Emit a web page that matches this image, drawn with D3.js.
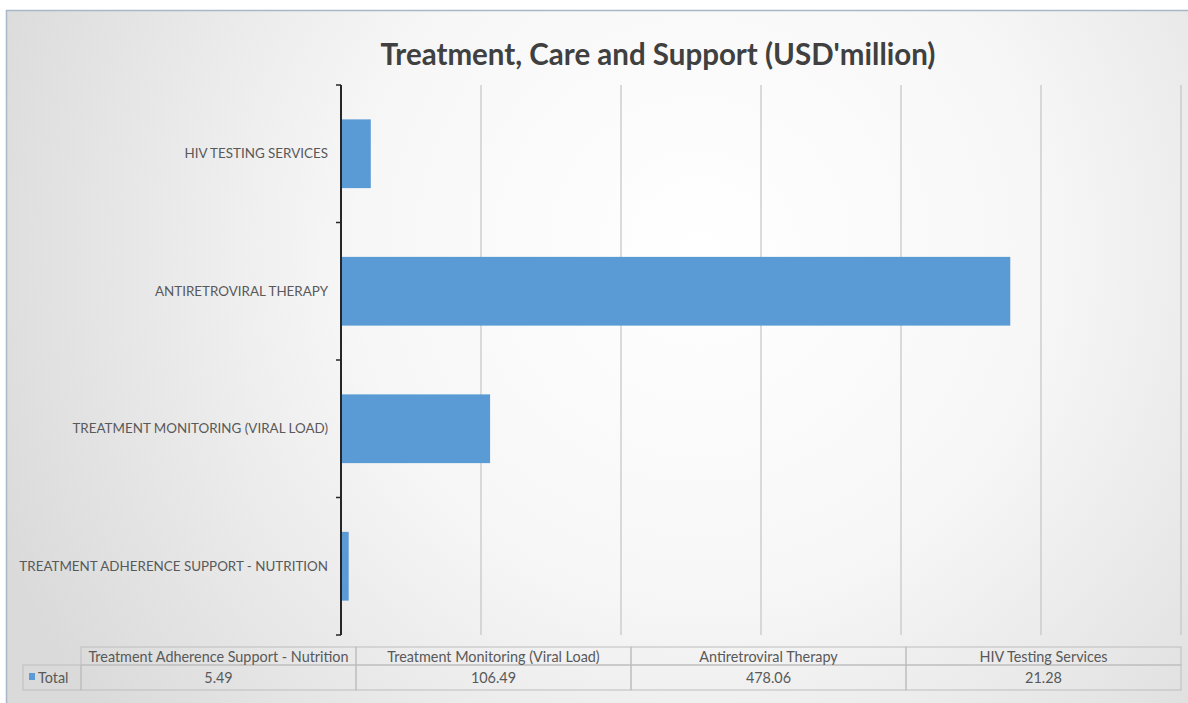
<!DOCTYPE html>
<html>
<head>
<meta charset="utf-8">
<script src="https://cdn.jsdelivr.net/npm/d3@7"></script>
<style>
  html, body { margin: 0; padding: 0; background: #ffffff; }
  svg { display: block; }
</style>
</head>
<body>
<svg id="chart" width="1188" height="703"></svg>
<script>
// Spending categories, in data-table order (bottom bar first)
const categories = [
  "Treatment Adherence Support - Nutrition",
  "Treatment Monitoring (Viral Load)",
  "Antiretroviral Therapy",
  "HIV Testing Services"
];
const totals = [5.49, 106.49, 478.06, 21.28];
const xTicks = [0, 100, 200, 300, 400, 500, 600];
const seriesName = "Total";
const titleText = "Treatment, Care and Support (USD'million)";

const W = 1188, H = 703;
const barColor = "#5b9bd5";
const textColor = "#595959";
const font = "Lato, 'Open Sans', sans-serif";

const svg = d3.select("#chart");

// Chart area background: soft radial fade to grey at the edges
const defs = svg.append("defs");
const grad = defs.append("radialGradient")
  .attr("id", "bg").attr("gradientUnits", "userSpaceOnUse")
  .attr("cx", 700).attr("cy", 250).attr("r", 760);
grad.append("stop").attr("offset", "0%").attr("stop-color", "#ffffff");
grad.append("stop").attr("offset", "45%").attr("stop-color", "#f7f7f7");
grad.append("stop").attr("offset", "100%").attr("stop-color", "#dadada");

svg.append("rect").attr("x", 0).attr("y", 0).attr("width", W).attr("height", H).attr("fill", "#ffffff");
svg.append("rect")
  .attr("x", 6).attr("y", 10).attr("width", W - 6).attr("height", H - 10)
  .attr("fill", "url(#bg)");
// frame edges (top and left)
svg.append("path")
  .attr("d", `M6.5,${H} V10.5 H${W}`)
  .attr("fill", "none")
  .attr("stroke", "#a9b8c8").attr("stroke-width", 1.5);

// Title
svg.append("text")
  .attr("x", 658).attr("y", 65)
  .attr("text-anchor", "middle")
  .attr("font-family", font).attr("font-weight", "bold")
  .attr("font-size", 29.5).attr("fill", "#404040")
  .text(titleText);

// Plot area
const plot = { left: 341, right: 1181, top: 85, bottom: 635 };

const x = d3.scaleLinear()
  .domain([xTicks[0], xTicks[xTicks.length - 1]])
  .range([plot.left, plot.right]);

const y = d3.scaleBand()
  .domain(categories.slice().reverse())
  .range([plot.top, plot.bottom])
  .paddingInner(0.5).paddingOuter(0.25);

// Vertical gridlines
svg.append("g")
  .selectAll("line")
  .data(xTicks.slice(1))
  .join("line")
  .attr("x1", d => x(d)).attr("x2", d => x(d))
  .attr("y1", plot.top).attr("y2", plot.bottom)
  .attr("stroke", "#c4c4c4").attr("stroke-width", 1.2);

// Bars
svg.append("g")
  .selectAll("rect")
  .data(categories.map((c, i) => ({ c, v: totals[i] })))
  .join("rect")
  .attr("x", x(0))
  .attr("y", d => y(d.c))
  .attr("width", d => x(d.v) - x(0))
  .attr("height", y.bandwidth())
  .attr("fill", barColor);

// Category axis with tick marks at band boundaries
const axisG = svg.append("g");
axisG.append("line")
  .attr("x1", plot.left).attr("x2", plot.left)
  .attr("y1", plot.top).attr("y2", plot.bottom)
  .attr("stroke", "#262626").attr("stroke-width", 2);
axisG.selectAll("line.tick")
  .data(d3.range(categories.length + 1).map(i => plot.top + i * y.step()))
  .join("line").attr("class", "tick")
  .attr("x1", plot.left - 5).attr("x2", plot.left)
  .attr("y1", d => d).attr("y2", d => d)
  .attr("stroke", "#262626").attr("stroke-width", 1.5);

axisG.selectAll("text")
  .data(y.domain())
  .join("text")
  .attr("x", plot.left - 13)
  .attr("y", d => y(d) + y.bandwidth() / 2)
  .attr("dy", "0.35em")
  .attr("text-anchor", "end")
  .attr("font-family", font).attr("font-size", 13.4)
  .attr("fill", textColor)
  .text(d => d.toUpperCase());

// Data table beneath the plot
const tbl = { left: 81, right: 1181, labelLeft: 23, top: 647, mid: 665, bottom: 690 };
const colX = d3.scaleBand()
  .domain(categories)
  .range([tbl.left, tbl.right]);

const tg = svg.append("g");
const gridStroke = "#bdbdbd";
// header row cells
tg.selectAll("rect.head")
  .data(categories)
  .join("rect").attr("class", "head")
  .attr("x", d => colX(d)).attr("y", tbl.top)
  .attr("width", colX.bandwidth()).attr("height", tbl.mid - tbl.top)
  .attr("fill", "none").attr("stroke", gridStroke);
// value row cells
tg.selectAll("rect.val")
  .data(categories)
  .join("rect").attr("class", "val")
  .attr("x", d => colX(d)).attr("y", tbl.mid)
  .attr("width", colX.bandwidth()).attr("height", tbl.bottom - tbl.mid)
  .attr("fill", "none").attr("stroke", gridStroke);
// series label cell
tg.append("rect")
  .attr("x", tbl.labelLeft).attr("y", tbl.mid)
  .attr("width", tbl.left - tbl.labelLeft).attr("height", tbl.bottom - tbl.mid)
  .attr("fill", "none").attr("stroke", gridStroke);

tg.selectAll("text.head")
  .data(categories)
  .join("text").attr("class", "head")
  .attr("x", d => colX(d) + colX.bandwidth() / 2)
  .attr("y", (tbl.top + tbl.mid) / 2 + 0.5).attr("dy", "0.35em")
  .attr("text-anchor", "middle")
  .attr("font-family", font).attr("font-size", 14.4).attr("fill", textColor)
  .text(d => d);

tg.selectAll("text.val")
  .data(categories.map((c, i) => ({ c, v: totals[i] })))
  .join("text").attr("class", "val")
  .attr("x", d => colX(d.c) + colX.bandwidth() / 2)
  .attr("y", (tbl.mid + tbl.bottom) / 2).attr("dy", "0.35em")
  .attr("text-anchor", "middle")
  .attr("font-family", font).attr("font-size", 14.4).attr("fill", textColor)
  .text(d => d3.format(".2f")(d.v));

// legend key + series name
tg.append("rect")
  .attr("x", 29).attr("y", 673).attr("width", 6).attr("height", 7)
  .attr("fill", barColor);
tg.append("text")
  .attr("x", 38).attr("y", (tbl.mid + tbl.bottom) / 2).attr("dy", "0.35em")
  .attr("font-family", font).attr("font-size", 14.4).attr("fill", textColor)
  .text(seriesName);
</script>
</body>
</html>
